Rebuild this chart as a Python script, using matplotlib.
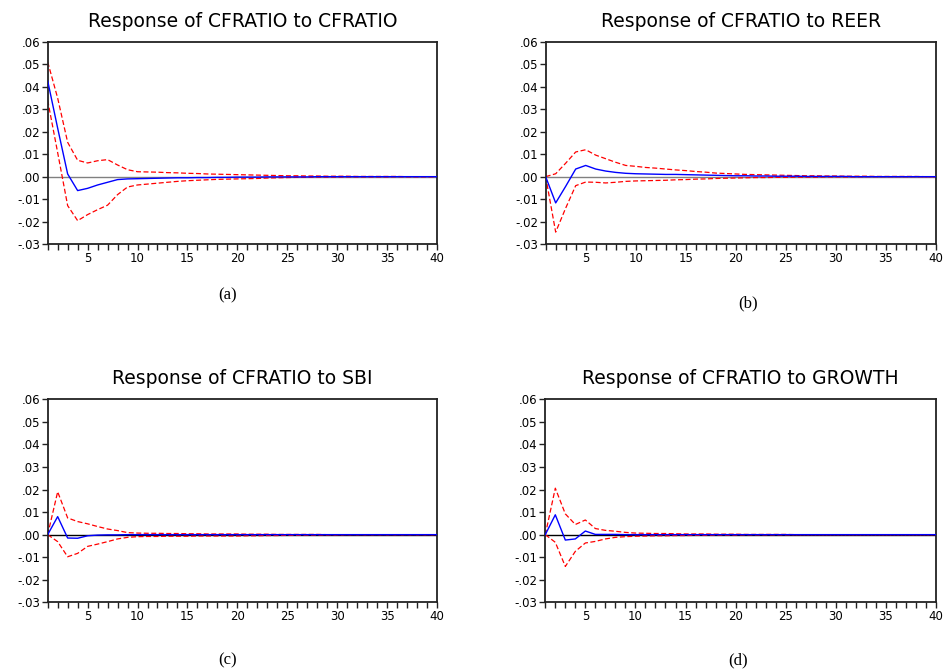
import numpy as np
import matplotlib
matplotlib.use("Agg")
import matplotlib.pyplot as plt
from matplotlib.ticker import FuncFormatter, MultipleLocator

periods = np.arange(1, 41)
shocks = ["CFRATIO", "REER", "SBI", "GROWTH"]
captions = ["(a)", "(b)", "(c)", "(d)"]

# responses (period 1..40)
resp_cfratio = [0.0427, 0.0216, 0.0012, -0.0062, -0.0052, -0.0037, -0.0025, -0.0013, -0.0010, -0.0009,
                -0.0008, -0.0007, -0.0006, -0.0005, -0.0005, -0.0004, -0.0004, -0.0003, -0.0003, -0.0002,
                -0.0002, -0.0002, -0.0001, -0.0001, -0.0001, -0.0001, -0.0001, 0.0, 0.0, 0.0,
                0.0, 0.0, 0.0, 0.0, 0.0, 0.0, 0.0, 0.0, 0.0, 0.0]
up_cfratio = [0.0511, 0.0350, 0.0153, 0.0073, 0.0061, 0.0071, 0.0076, 0.0052, 0.0031, 0.0022,
              0.0021, 0.0020, 0.0018, 0.0017, 0.0015, 0.0014, 0.0012, 0.0011, 0.0010, 0.0009,
              0.0008, 0.0007, 0.0006, 0.0005, 0.0004, 0.0004, 0.0003, 0.0003, 0.0002, 0.0002,
              0.0002, 0.0001, 0.0001, 0.0001, 0.0001, 0.0001, 0.0, 0.0, 0.0, 0.0]
lo_cfratio = [0.0340, 0.0107, -0.0129, -0.0196, -0.0169, -0.0147, -0.0127, -0.0080, -0.0046, -0.0037,
              -0.0033, -0.0029, -0.0025, -0.0021, -0.0018, -0.0016, -0.0014, -0.0012, -0.0011, -0.0010,
              -0.0009, -0.0008, -0.0006, -0.0005, -0.0004, -0.0003, -0.0003, -0.0002, -0.0002, -0.0002,
              -0.0001, -0.0001, -0.0001, -0.0001, -0.0001, 0.0, 0.0, 0.0, 0.0, 0.0]

resp_reer = [0.0, -0.0117, -0.0043, 0.0034, 0.0050, 0.0034, 0.0025, 0.0019, 0.0015, 0.0013,
             0.0012, 0.0011, 0.0010, 0.0010, 0.0009, 0.0008, 0.0007, 0.0006, 0.0005, 0.0004,
             0.0004, 0.0003, 0.0003, 0.0002, 0.0002, 0.0002, 0.0001, 0.0001, 0.0001, 0.0001,
             0.0001, 0.0, 0.0, 0.0, 0.0, 0.0, 0.0, 0.0, 0.0, 0.0]
up_reer = [0.0, 0.0013, 0.0060, 0.0110, 0.0120, 0.0096, 0.0080, 0.0064, 0.0050, 0.0046,
           0.0041, 0.0038, 0.0034, 0.0030, 0.0027, 0.0023, 0.0020, 0.0016, 0.0014, 0.0012,
           0.0010, 0.0009, 0.0008, 0.0007, 0.0006, 0.0005, 0.0004, 0.0004, 0.0003, 0.0003,
           0.0002, 0.0002, 0.0002, 0.0001, 0.0001, 0.0001, 0.0001, 0.0001, 0.0, 0.0]
lo_reer = [0.0, -0.0247, -0.0140, -0.0040, -0.0024, -0.0025, -0.0028, -0.0025, -0.0021, -0.0019,
           -0.0018, -0.0017, -0.0016, -0.0014, -0.0013, -0.0011, -0.0010, -0.0008, -0.0007, -0.0006,
           -0.0005, -0.0004, -0.0004, -0.0003, -0.0003, -0.0002, -0.0002, -0.0002, -0.0001, -0.0001,
           -0.0001, -0.0001, 0.0, 0.0, 0.0, 0.0, 0.0, 0.0, 0.0, 0.0]

resp_sbi = [0.0, 0.0080, -0.0015, -0.0016, -0.0005, -0.0002, -0.0001, -0.0001, 0.0, 0.0,
            0.0, 0.0, 0.0, 0.0, 0.0, 0.0, 0.0, 0.0, 0.0, 0.0,
            0.0, 0.0, 0.0, 0.0, 0.0, 0.0, 0.0, 0.0, 0.0, 0.0,
            0.0, 0.0, 0.0, 0.0, 0.0, 0.0, 0.0, 0.0, 0.0, 0.0]
up_sbi = [0.0, 0.0190, 0.0074, 0.0058, 0.0048, 0.0036, 0.0025, 0.0018, 0.0009, 0.0007,
          0.0006, 0.0006, 0.0005, 0.0005, 0.0004, 0.0004, 0.0003, 0.0003, 0.0003, 0.0003,
          0.0002, 0.0002, 0.0002, 0.0001, 0.0001, 0.0001, 0.0001, 0.0001, 0.0, 0.0,
          0.0, 0.0, 0.0, 0.0, 0.0, 0.0, 0.0, 0.0, 0.0, 0.0]
lo_sbi = [0.0, -0.0031, -0.0098, -0.0083, -0.0052, -0.0042, -0.0031, -0.0019, -0.0012, -0.0009,
          -0.0008, -0.0008, -0.0007, -0.0007, -0.0007, -0.0006, -0.0006, -0.0006, -0.0006, -0.0006,
          -0.0005, -0.0005, -0.0004, -0.0004, -0.0003, -0.0003, -0.0002, -0.0002, -0.0001, -0.0001,
          0.0, 0.0, 0.0, 0.0, 0.0, 0.0, 0.0, 0.0, 0.0, 0.0]

resp_growth = [0.0, 0.0088, -0.0024, -0.0019, 0.0016, 0.0001, 0.0001, 0.0001, 0.0, 0.0,
               0.0, 0.0, 0.0, 0.0, 0.0, 0.0, 0.0, 0.0, 0.0, 0.0,
               0.0, 0.0, 0.0, 0.0, 0.0, 0.0, 0.0, 0.0, 0.0, 0.0,
               0.0, 0.0, 0.0, 0.0, 0.0, 0.0, 0.0, 0.0, 0.0, 0.0]
up_growth = [0.0, 0.0206, 0.0092, 0.0045, 0.0065, 0.0027, 0.0019, 0.0015, 0.0010, 0.0007,
             0.0006, 0.0005, 0.0005, 0.0004, 0.0003, 0.0003, 0.0003, 0.0002, 0.0002, 0.0002,
             0.0001, 0.0001, 0.0001, 0.0001, 0.0001, 0.0, 0.0, 0.0, 0.0, 0.0,
             0.0, 0.0, 0.0, 0.0, 0.0, 0.0, 0.0, 0.0, 0.0, 0.0]
lo_growth = [0.0, -0.0034, -0.0141, -0.0074, -0.0037, -0.0030, -0.0019, -0.0012, -0.0009, -0.0007,
             -0.0006, -0.0005, -0.0005, -0.0004, -0.0004, -0.0003, -0.0003, -0.0002, -0.0002, -0.0002,
             -0.0001, -0.0001, -0.0001, -0.0001, -0.0001, 0.0, 0.0, 0.0, 0.0, 0.0,
             0.0, 0.0, 0.0, 0.0, 0.0, 0.0, 0.0, 0.0, 0.0, 0.0]

responses = [resp_cfratio, resp_reer, resp_sbi, resp_growth]
uppers = [up_cfratio, up_reer, up_sbi, up_growth]
lowers = [lo_cfratio, lo_reer, lo_sbi, lo_growth]


def ytick(v, pos):
    s = f"{v:.2f}"
    return s.replace("0.", ".", 1)


# axes boxes in figure fractions (left, bottom, width, height)
boxes = [(0.0503, 0.6369, 0.4107, 0.3006),
         (0.5756, 0.6369, 0.4117, 0.3006),
         (0.0503, 0.1037, 0.4107, 0.3021),
         (0.5752, 0.1037, 0.4121, 0.3021)]
caption_xy = [(228, 295), (748, 303), (228, 660), (738, 660)]
zero_colors = ["#808080", "#808080", "black", "black"]

fig = plt.figure(figsize=(9.48, 6.72), dpi=100)
for i in range(4):
    ax = fig.add_axes(boxes[i])
    ax.axhline(0, color=zero_colors[i], lw=1.0, zorder=1)
    ax.plot(periods, uppers[i], color="red", lw=0.9, ls=(0, (4, 2)), zorder=2)
    ax.plot(periods, lowers[i], color="red", lw=0.9, ls=(0, (4, 2)), zorder=2)
    ax.plot(periods, responses[i], color="blue", lw=1.0, zorder=3)
    ax.set_xlim(1, 40)
    ax.set_ylim(-0.03, 0.06)
    ax.xaxis.set_major_locator(MultipleLocator(5))
    ax.xaxis.set_minor_locator(MultipleLocator(1))
    ax.yaxis.set_major_locator(MultipleLocator(0.01))
    ax.yaxis.set_major_formatter(FuncFormatter(ytick))
    ax.tick_params(axis="both", which="major", direction="out", length=4, width=1.0,
                   labelsize=8.5, top=False, right=False, pad=1.5, color="#222222")
    ax.tick_params(axis="x", which="minor", direction="out", length=4, width=1.0,
                   top=False, color="#222222")
    for sp in ax.spines.values():
        sp.set_linewidth(1.3)
        sp.set_color("#222222")
    for lab in ax.get_xticklabels() + ax.get_yticklabels():
        lab.set_family("DejaVu Sans")
    ax.set_title(f"Response of CFRATIO to {shocks[i]}", fontsize=13.5,
                 family="DejaVu Sans", pad=11)
    cx, cy = caption_xy[i]
    fig.text(cx / 948, 1 - cy / 672, captions[i], ha="center", va="center",
             fontsize=12, family="Liberation Serif")

fig.savefig("out.png", dpi=100)
